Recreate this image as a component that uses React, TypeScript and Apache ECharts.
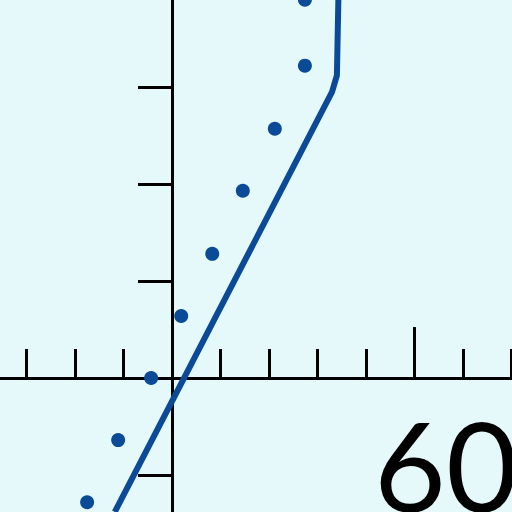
import { useEffect, useRef } from 'react';
import * as echarts from 'echarts';

// axis ranges (one tick unit on each axis)
const xRange = [-3.546, 7.01];
const yRange = [-1.381, 3.897];

const xTicks = [-3, -2, -1, 1, 2, 3, 4, 5, 6, 7];
const xMajorTicks = [5];
const yTicks = [-1, 1, 2, 3];

// measured points
const pointX = [-1.75, -1.11, -0.43, 0.19, 0.83, 1.46, 2.12, 2.74, 2.74];
const pointY = [-1.28, -0.64, 0.0, 0.64, 1.28, 1.93, 2.57, 3.22, 3.9];

// fitted line
const lineX = [-1.18, 3.3, 3.4, 3.43];
const lineY = [-1.381, 2.95, 3.12, 3.897];

const bigLabel = '60';

const BLUE = '#0b4a97';

export default function App() {
    const chartRef = useRef<HTMLDivElement>(null);

    useEffect(() => {
        if (!chartRef.current) return;
        const chart = echarts.init(chartRef.current, null, { renderer: 'svg' });

        const option: echarts.EChartsOption = {
            animation: false,
            backgroundColor: '#e5f8fa',
            grid: { left: 0, right: 0, top: 0, bottom: 0, containLabel: false },
            xAxis: {
                type: 'value',
                min: xRange[0],
                max: xRange[1],
                axisLine: { show: true, onZero: true, lineStyle: { color: '#000', width: 3 } },
                axisTick: {
                    show: true,
                    inside: true,
                    length: 29,
                    customValues: xTicks,
                    lineStyle: { color: '#000', width: 3 },
                },
                axisLabel: { show: false },
                splitLine: { show: false },
            },
            yAxis: {
                type: 'value',
                min: yRange[0],
                max: yRange[1],
                axisLine: { show: true, onZero: true, lineStyle: { color: '#000', width: 3 } },
                axisTick: {
                    show: true,
                    inside: false,
                    length: 34,
                    customValues: yTicks,
                    lineStyle: { color: '#000', width: 3 },
                },
                axisLabel: { show: false },
                splitLine: { show: false },
            },
            series: [
                {
                    type: 'custom',
                    data: xMajorTicks.map((v) => [v, 0]),
                    renderItem: (params: any, api: any) => {
                        const p = api.coord([api.value(0), api.value(1)]);
                        return {
                            type: 'line',
                            shape: { x1: p[0], y1: p[1], x2: p[0], y2: p[1] - 51 },
                            style: { stroke: '#000', lineWidth: 3 },
                        };
                    },
                    silent: true,
                    z: 1,
                },
                {
                    type: 'line',
                    data: lineX.map((x, i) => [x, lineY[i]]),
                    showSymbol: false,
                    lineStyle: { color: BLUE, width: 6 },
                    clip: true,
                    z: 3,
                },
                {
                    type: 'scatter',
                    data: pointX.map((x, i) => [x, pointY[i]]),
                    symbolSize: 14,
                    itemStyle: { color: BLUE, opacity: 1 },
                    clip: false,
                    z: 4,
                },
            ],
            graphic: [
                {
                    type: 'text',
                    x: 374,
                    y: 464,
                    style: {
                        text: bigLabel,
                        fontFamily: 'Lato',
                        fontSize: 124,
                        fill: '#000',
                        align: 'left',
                        verticalAlign: 'middle',
                    },
                    z: 10,
                },
            ],
        };

        chart.setOption(option, { notMerge: true });

        return () => {
            chart.dispose();
        };
    }, []);

    return (
        <div
            ref={chartRef}
            style={{ position: 'absolute', left: 0, top: 0, width: '512px', height: '512px' }}
        />
    );
}
